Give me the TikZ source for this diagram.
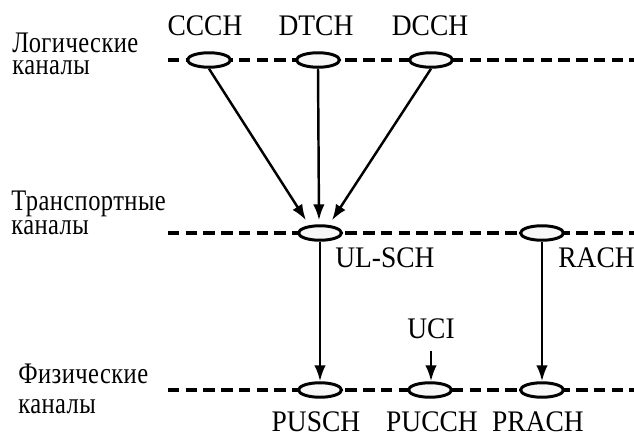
\documentclass[tikz,border=0pt]{standalone}
\usepackage{fontspec}
\setmainfont{Liberation Serif}[FakeStretch=0.92]
\newfontfamily\layerfont{Liberation Serif}[FakeStretch=0.82,LetterSpace=1.5]
\usetikzlibrary{shapes.geometric,arrows.meta}

\begin{document}
\begin{tikzpicture}[x=0.02cm,y=-0.02cm,
	chan/.style={ellipse,draw,line width=1.7pt,fill=black!3,minimum width=0.86cm,minimum height=0.29cm,inner sep=0pt},
	lane/.style={line width=1.8pt,dash pattern=on 6.5pt off 3.6pt},
	link/.style={line width=1.4pt,-{Latex[length=9pt,width=6.5pt]}},
	lbl/.style={font=\fontsize{17}{19}\selectfont,inner sep=0pt,anchor=base},
	layer/.style={align=left,anchor=base west,inner sep=0pt}]
	%%%%% START %%%%%
	\def\ylog{60}
	\def\ytr{233}
	\def\yph{390}
	\def\xend{634}
	\useasboundingbox (0,0) rectangle (634,435);

	% layers
	\draw[lane] (168,\ylog) -- (\xend,\ylog);
	\draw[lane] (168,\ytr) -- (\xend,\ytr);
	\draw[lane] (168,\yph) -- (\xend,\yph);

	\node[layer,font=\layerfont\fontsize{17}{13}\selectfont] (loglbl) at (12,75) {Логические\\каналы};
	\node[layer,font=\layerfont\fontsize{17}{14.2}\selectfont] (trlbl) at (11,235) {Транспортные\\каналы};
	\node[layer,font=\layerfont\fontsize{17}{17}\selectfont] (phlbl) at (18,413) {Физические\\каналы};

	% logical channels
	\node[chan] (ccch) at (209,\ylog) {};
	\node[chan] (dtch) at (318,\ylog) {};
	\node[chan] (dcch) at (431,\ylog) {};
	\node[lbl] (ccchlbl) at (205,36) {CCCH};
	\node[lbl] (dtchlbl) at (316,36) {DTCH};
	\node[lbl] (dcchlbl) at (430,36) {DCCH};

	% transport channels
	\node[chan] (ulsch) at (320,\ytr) {};
	\node[chan] (rach) at (542,\ytr) {};
	\node[lbl,anchor=base west] (ulschlbl) at (335,267) {UL-SCH};
	\node[lbl,anchor=base west] (rachlbl) at (558,267) {RACH};

	% physical channels
	\node[chan] (pusch) at (320,\yph) {};
	\node[chan] (pucch) at (430,\yph) {};
	\node[chan] (prach) at (542,\yph) {};
	\node[lbl] (puschlbl) at (316,431) {PUSCH};
	\node[lbl] (pucchlbl) at (432,431) {PUCCH};
	\node[lbl] (prachlbl) at (538,431) {PRACH};
	\node[lbl] (uci) at (431,338) {UCI};

	% mapping
	\draw[link] (ccch.south) -- ([shift={(-14,-4)}]ulsch.north);
	\draw[link] (dtch.south) -- ([shift={(-1,-4)}]ulsch.north);
	\draw[link] (dcch.south) -- ([shift={(12,-4)}]ulsch.north);
	\draw[link] (ulsch.south) -- (pusch.north);
	\draw[link] (rach.south) -- (prach.north);
	\draw[link] ([yshift=-7pt]uci.south) -- (uci.south |- pucch.north);
	%%%%% END %%%%%
\end{tikzpicture}
\end{document}
